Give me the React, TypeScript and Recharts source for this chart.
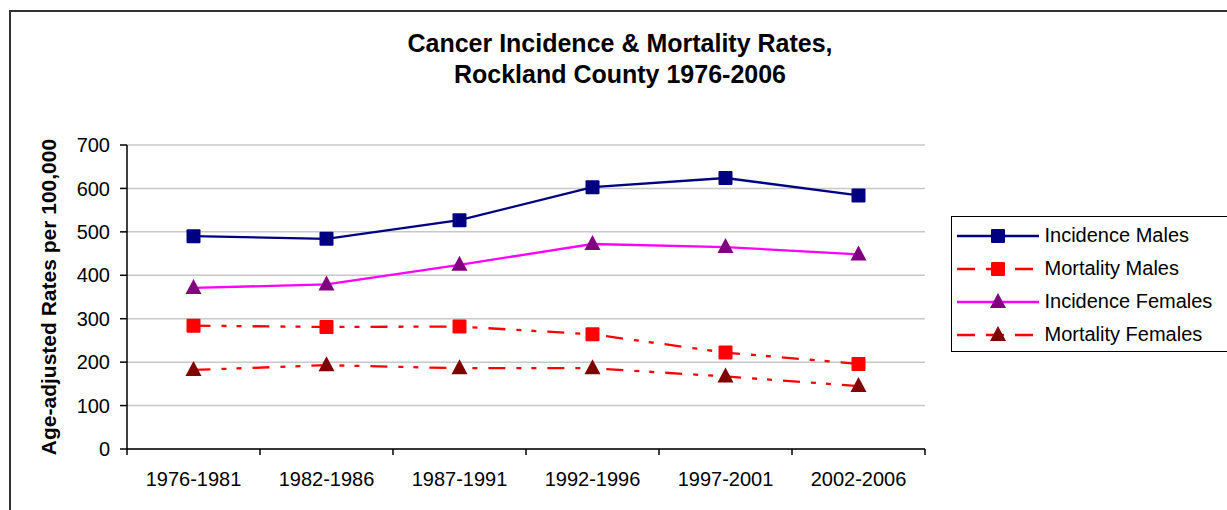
import { LineChart, Line, XAxis, YAxis, CartesianGrid, Label } from 'recharts';

const periods = ['1976-1981', '1982-1986', '1987-1991', '1992-1996', '1997-2001', '2002-2006'];
const incidenceMales = [490, 484, 527, 603, 624, 584];
const mortalityMales = [284, 281, 282, 264, 222, 196];
const incidenceFemales = [371, 379, 424, 472, 465, 448];
const mortalityFemales = [182, 193, 186, 186, 167, 145];
const yTicks = [0, 100, 200, 300, 400, 500, 600, 700];
const xBounds = [0, 1, 2, 3, 4, 5, 6];

const chartData = periods.map((period, i) => ({
  x: i + 0.5,
  period,
  incidenceMales: incidenceMales[i],
  mortalityMales: mortalityMales[i],
  incidenceFemales: incidenceFemales[i],
  mortalityFemales: mortalityFemales[i],
}));

const FONT = 'Arial, "Liberation Sans", sans-serif';
const DASH = '17 11 5 10 5 11';
const PLOT_LEFT = 127;
const PLOT_RIGHT = 925;
const BAND = (PLOT_RIGHT - PLOT_LEFT) / periods.length;

const series = [
  { key: 'incidenceMales', name: 'Incidence Males', stroke: '#000080', fill: '#000080', shape: 'square', dash: undefined },
  { key: 'mortalityMales', name: 'Mortality Males', stroke: '#FF0000', fill: '#FF0000', shape: 'square', dash: DASH },
  { key: 'incidenceFemales', name: 'Incidence Females', stroke: '#FF00FF', fill: '#800080', shape: 'triangle', dash: undefined },
  { key: 'mortalityFemales', name: 'Mortality Females', stroke: '#FF0000', fill: '#800000', shape: 'triangle', dash: DASH },
];

function Marker({ cx, cy, shape, fill }: any) {
  if (cx == null || cy == null) return null;
  if (shape === 'square') {
    return <rect x={cx - 7} y={cy - 7} width={14} height={14} rx={1} fill={fill} />;
  }
  return <polygon points={`${cx},${cy - 9} ${cx + 8},${cy + 6} ${cx - 8},${cy + 6}`} fill={fill} />;
}

// category labels sit in the middle of each band, ticks on the band edges
function XTick({ x, y, index }: any) {
  if (index >= periods.length) return null;
  return (
    <text x={x + BAND / 2} y={y + 29} textAnchor="middle" fontSize={20} fontFamily={FONT} fill="#000">
      {periods[index]}
    </text>
  );
}

export default function App() {
  return (
    <div style={{ position: 'absolute', left: 0, top: 0, width: 1227, height: 510, background: '#fff', overflow: 'hidden' }}>
      <div
        style={{
          position: 'absolute', left: 9, top: 10, width: 1240, height: 520,
          border: '2px solid #333', boxSizing: 'border-box',
        }}
      />
      <div
        style={{
          position: 'absolute', left: 320, top: 28, width: 600, textAlign: 'center',
          fontFamily: FONT, fontWeight: 'bold', fontSize: 25, lineHeight: '31px', color: '#000',
        }}
      >
        Cancer Incidence &amp; Mortality Rates,
        <br />
        Rockland County 1976-2006
      </div>

      <div style={{ position: 'absolute', left: 0, top: 0 }}>
        <LineChart
          width={1227}
          height={510}
          data={chartData}
          margin={{ top: 145, right: 1227 - PLOT_RIGHT, bottom: 31, left: 47 }}
        >
          <CartesianGrid horizontal vertical={false} stroke="#c8c8c8" strokeWidth={1.5} />
          <XAxis
            dataKey="x"
            type="number"
            domain={[0, 6]}
            ticks={xBounds}
            interval={0}
            height={30}
            axisLine={{ stroke: '#000', strokeWidth: 1.5 }}
            tickLine={{ stroke: '#000', strokeWidth: 1.5 }}
            tickSize={6}
            tick={<XTick />}
          />
          <YAxis
            domain={[0, 700]}
            ticks={yTicks}
            interval={0}
            width={80}
            axisLine={{ stroke: '#000', strokeWidth: 1.5 }}
            tickLine={{ stroke: '#000', strokeWidth: 1.5 }}
            tickSize={7}
            tickMargin={10}
            tick={{ fontSize: 20, fontFamily: FONT, fill: '#000' }}
          >
            <Label
              value="Age-adjusted Rates per 100,000"
              angle={-90}
              position="insideLeft"
              offset={2}
              style={{ fontSize: 21, fontWeight: 'bold', fontFamily: FONT, fill: '#000', textAnchor: 'middle' }}
            />
          </YAxis>
          {series.map((s) => (
            <Line
              key={s.key}
              dataKey={s.key}
              name={s.name}
              stroke={s.stroke}
              strokeWidth={2.3}
              strokeDasharray={s.dash}
              isAnimationActive={false}
              dot={<Marker shape={s.shape} fill={s.fill} />}
              activeDot={false}
            />
          ))}
        </LineChart>
      </div>

      <div
        style={{
          position: 'absolute', left: 951, top: 216, width: 290, height: 136,
          border: '1.5px solid #000', boxSizing: 'border-box', background: '#fff',
          fontFamily: FONT, fontSize: 20, paddingTop: 2,
        }}
      >
        {series.map((s) => (
          <div key={s.key} style={{ display: 'flex', alignItems: 'center', height: 33 }}>
            <svg width={88} height={20} style={{ marginLeft: 4.5, flexShrink: 0 }}>
              <line x1={0} x2={82} y1={10} y2={10} stroke={s.stroke} strokeWidth={2.3} strokeDasharray={s.dash ? '18 11' : undefined} />
              <Marker cx={41} cy={10} shape={s.shape} fill={s.fill} />
            </svg>
            <span style={{ whiteSpace: 'nowrap' }}>{s.name}</span>
          </div>
        ))}
      </div>
    </div>
  );
}
